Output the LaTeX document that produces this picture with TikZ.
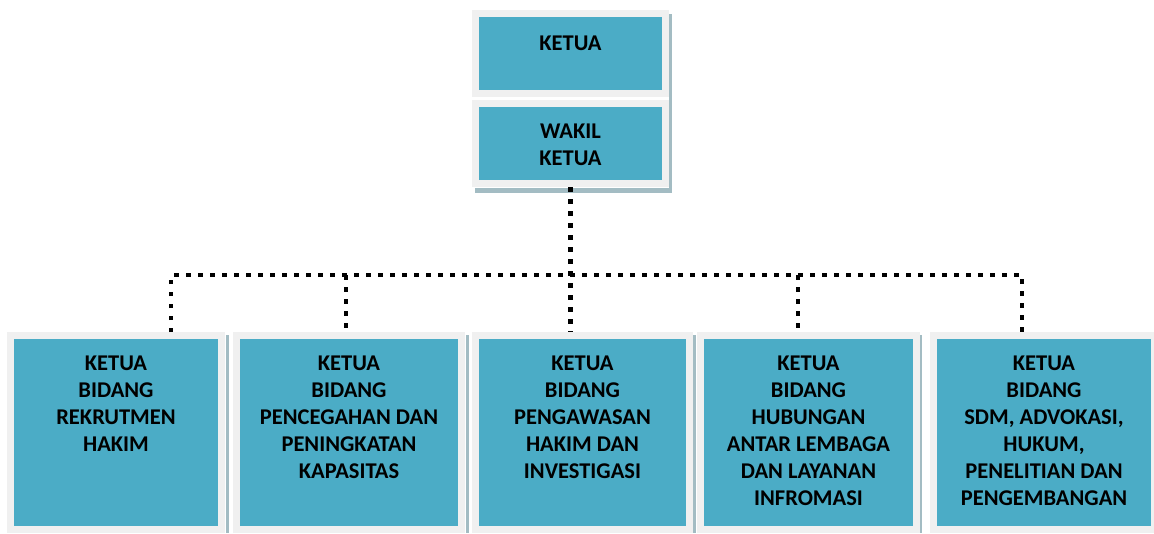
\documentclass[tikz,border=0pt]{standalone}
\usepackage{fontspec}
\setmainfont{Carlito}
\usetikzlibrary{calc}
\definecolor{teal5}{HTML}{4BACC6}
\definecolor{framegray}{HTML}{F0F0F0}
\definecolor{shadecol}{HTML}{A3BCC3}
\begin{document}
\begin{tikzpicture}[x=1pt,y=-1pt,
  box/.style={draw=framegray, fill=teal5, line width=7pt, inner sep=0pt},
  topbox/.style={box, minimum width=190pt, minimum height=80pt},
  lowbox/.style={box, minimum height=194pt},
  lbl/.style={font=\bfseries\fontsize{22.5}{27}\selectfont, align=center, inner sep=0pt, anchor=north},
  dotline/.style={line width=4.5pt, dash pattern=on 4.5pt off 7.5pt, line cap=butt},
  shadow/.style={fill=shadecol}
]
\useasboundingbox (0,0) rectangle (1154,533);
% shadows
\fill[shadow] (669,14) rectangle (672,193);
\fill[shadow] (475,188) rectangle (672,193);
\fill[shadow] (226,335) rectangle (229,533);
\fill[shadow] (466,335) rectangle (469,533);
\fill[shadow] (693,335) rectangle (696,533);
\fill[shadow] (919,335) rectangle (922,533);
% boxes
\node[topbox] (ketua) at (570.5,53.5) {};
\node[topbox] (wakil) at (570.5,143.5) {};
\node[lowbox, minimum width=211pt] (b1) at (116,432.5) {};
\node[lowbox, minimum width=225pt] (b2) at (349,432.5) {};
\node[lowbox, minimum width=214pt] (b3) at (582.5,432.5) {};
\node[lowbox, minimum width=216pt] (b4) at (808.5,432.5) {};
\node[lowbox, minimum width=221pt] (b5) at (1044,432.5) {};
% texts
\node[lbl] (tk) at ([yshift=-26pt]ketua.north) {KETUA};
\node[lbl] (tw) at ([yshift=-24pt]wakil.north) {WAKIL\\KETUA};
\node[lbl] (t1) at ([yshift=-24pt]b1.north) {KETUA\\BIDANG\\REKRUTMEN\\HAKIM};
\node[lbl] (t2) at ([yshift=-24pt]b2.north) {KETUA\\BIDANG\\PENCEGAHAN DAN\\PENINGKATAN\\KAPASITAS};
\node[lbl] (t3) at ([yshift=-24pt]b3.north) {KETUA\\BIDANG\\PENGAWASAN\\HAKIM DAN\\INVESTIGASI};
\node[lbl] (t4) at ([yshift=-24pt]b4.north) {KETUA\\BIDANG\\HUBUNGAN\\ANTAR LEMBAGA\\DAN LAYANAN\\INFROMASI};
\node[lbl] (t5) at ([yshift=-24pt]b5.north) {KETUA\\BIDANG\\SDM, ADVOKASI,\\HUKUM,\\PENELITIAN DAN\\PENGEMBANGAN};
% bus coordinates
\coordinate (j1) at (171,275);
\coordinate (j2) at (346,275);
\coordinate (j3) at (570,275);
\coordinate (j4) at (798,275);
\coordinate (j5) at (1022,275);
% connectors
\draw[dotline] (wakil.south) -- (wakil.south |- b3.north);
\draw[dotline] (j1 |- b1.north) -- (j1) -- (j5) -- (j5 |- b5.north);
\draw[dotline] (j2) -- (j2 |- b2.north);
\draw[dotline] (j4) -- (j4 |- b4.north);
\end{tikzpicture}
\end{document}
